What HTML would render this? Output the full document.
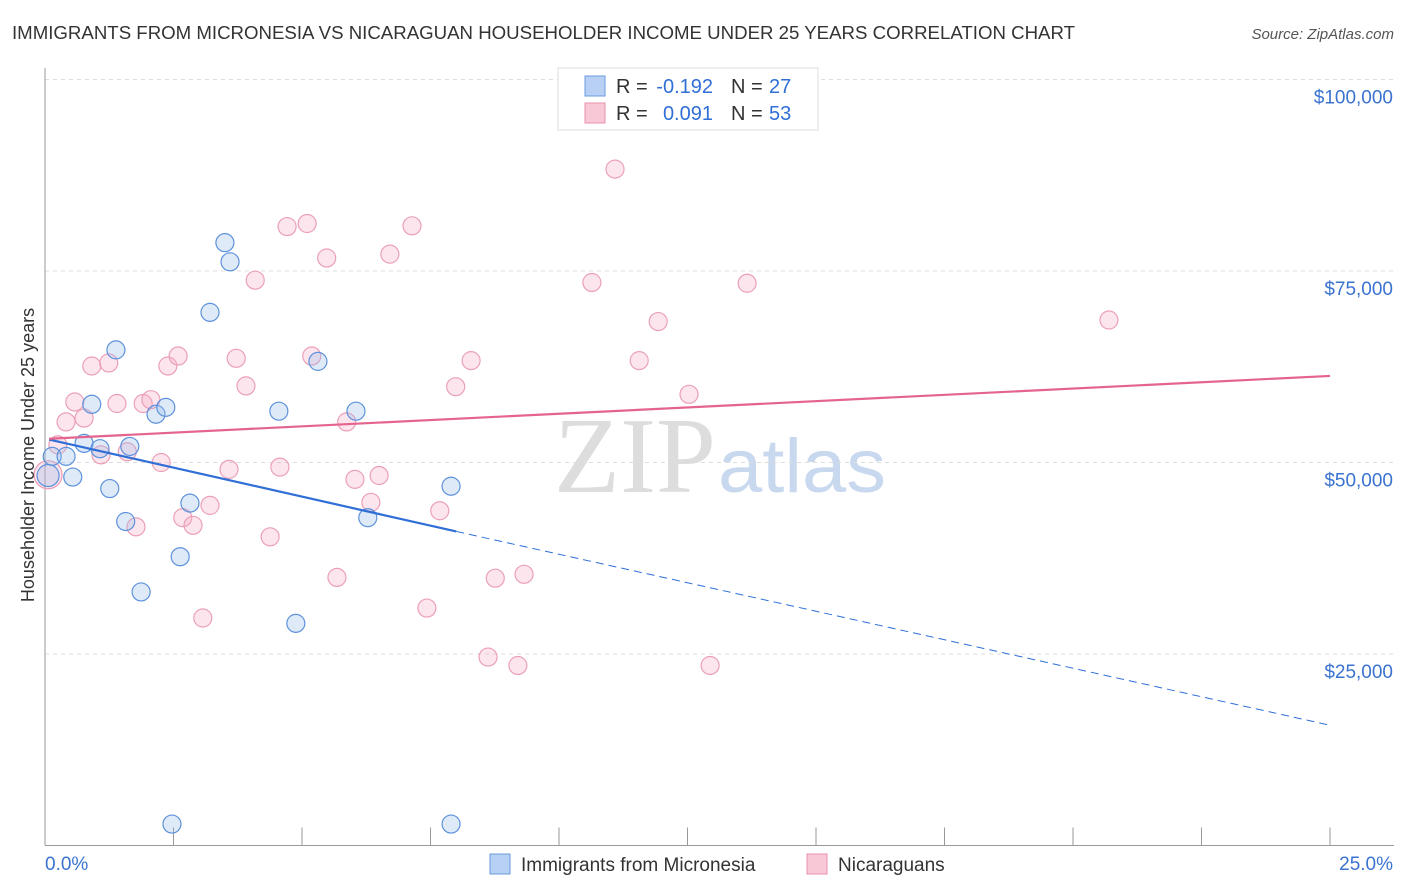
<!DOCTYPE html>
<html><head><meta charset="utf-8"><style>
body{margin:0;background:#fff;font-family:"Liberation Sans",sans-serif;}
svg{display:block}
</style></head><body>
<svg id="chart" width="1406" height="892">
<text x="12" y="39" font-size="18" fill="#333" textLength="1063" lengthAdjust="spacingAndGlyphs">IMMIGRANTS FROM MICRONESIA VS NICARAGUAN HOUSEHOLDER INCOME UNDER 25 YEARS CORRELATION CHART</text>
<text x="1394" y="39" font-size="15" fill="#555" font-style="italic" text-anchor="end">Source: ZipAtlas.com</text>
<text x="716" y="492" font-size="108" fill="#ddd" text-anchor="end" font-family="Liberation Serif" textLength="162" lengthAdjust="spacingAndGlyphs">ZIP</text>
<text x="718" y="492" font-size="76" fill="#c8d8ee" textLength="168" lengthAdjust="spacingAndGlyphs">atlas</text>
<g id="grid"></g>
<g id="axes"></g>
<g id="pts"></g>
<g id="lines"></g>
<text transform="translate(34,455) rotate(-90)" font-size="18" fill="#333" text-anchor="middle">Householder Income Under 25 years</text>
<g>
<rect x="558" y="68" width="260" height="62" fill="#fff" stroke="#ddd"/>
<rect x="585" y="76" width="20" height="20" fill="#b8d0f3" stroke="#6a9be0"/>
<rect x="585" y="103" width="20" height="20" fill="#f9c8d6" stroke="#e890ab"/>
<text x="616" y="93" font-size="20" fill="#333">R =</text>
<text x="713" y="93" font-size="20" fill="#2f6fd6" text-anchor="end">-0.192</text>
<text x="731" y="93" font-size="20" fill="#333">N =</text>
<text x="769" y="93" font-size="20" fill="#2f6fd6">27</text>
<text x="616" y="120" font-size="20" fill="#333">R =</text>
<text x="713" y="120" font-size="20" fill="#2f6fd6" text-anchor="end">0.091</text>
<text x="731" y="120" font-size="20" fill="#333">N =</text>
<text x="769" y="120" font-size="20" fill="#2f6fd6">53</text>
</g>
<g>
<rect x="490" y="854" width="20" height="20" fill="#b8d0f3" stroke="#6a9be0"/>
<text x="521" y="871" font-size="19" fill="#333">Immigrants from Micronesia</text>
<rect x="807" y="854" width="20" height="20" fill="#f9c8d6" stroke="#e890ab"/>
<text x="838" y="871" font-size="19" fill="#333">Nicaraguans</text>
</g>
</svg>
<script>
const yTicks=[25000,50000,75000,100000];
const yTickLabels=["$25,000","$50,000","$75,000","$100,000"];
const xTickLabels=["0.0%","25.0%"];
const blueX=[0.14,0.41,0.54,0.76,0.91,1.07,1.26,1.38,1.57,1.65,1.87,2.16,2.35,2.47,2.63,2.82,3.21,3.50,3.60,4.55,4.88,5.31,6.05,6.28,7.90,7.90,0.06];
const blueY=[50800,50800,48100,52500,57600,51800,46600,64700,42300,52100,33100,56300,57200,2800,37700,44700,69600,78700,76200,56700,29000,63200,56700,42800,46900,2800,48300];
const pinkX=[0.06,0.25,0.41,0.58,0.76,0.91,1.09,1.24,1.40,1.60,1.77,1.91,2.06,2.26,2.39,2.59,2.68,2.88,3.07,3.21,3.58,3.72,3.91,4.09,4.38,4.57,4.71,5.10,5.19,5.48,5.68,5.87,6.03,6.34,6.50,6.71,7.14,7.43,7.68,7.99,8.29,8.62,8.76,9.20,9.32,10.64,11.09,11.56,11.93,12.53,12.94,13.66,20.70];
const pinkY=[48400,52300,55300,57900,55800,62600,51000,63000,57700,51400,41600,57700,58200,50000,62600,63900,42800,41800,29700,44400,49100,63600,60000,73800,40300,49400,80800,81200,63900,76700,35000,55300,47800,44800,48300,77200,80900,31000,43700,59900,63300,24600,34900,23500,35400,73500,88300,63300,68400,58900,23500,73400,68600];
const lineBlue=[53000,41000,15700];
const linePink=[53100,61300];
const NS="http://www.w3.org/2000/svg";
const X0=45,X1=1330,Y0=845.5,YS=766/100000;
const sx=v=>X0+v/25*(X1-X0), sy=v=>Y0-v*YS;
function mk(tag,a,parent){const e=document.createElementNS(NS,tag);for(const k in a)e.setAttribute(k,a[k]);document.getElementById(parent).appendChild(e);return e;}
yTicks.forEach((t,i)=>{
 const g=mk('line',{x1:X0,x2:1394,y1:sy(t),y2:sy(t),stroke:'#ddd','stroke-dasharray':'4,4'},'grid');
 
 
 const l=mk('text',{x:1393,y:sy(t)+24,'font-size':19,fill:'#3a73d0','text-anchor':'end'},'axes');
 l.textContent=yTickLabels[i];
 
 
});
mk('line',{x1:X0,x2:X0,y1:68,y2:Y0,stroke:'#999'},'axes');
mk('line',{x1:X0,x2:1394,y1:Y0,y2:Y0,stroke:'#999'},'axes');
for(let i=0;i<=10;i++){const t=mk('line',{x1:sx(i*2.5),x2:sx(i*2.5),y1:Y0,y2:Y0-18,stroke:'#999'},'axes');
 
 }
const xl0=mk('text',{x:45,y:870,'font-size':19,fill:'#3a73d0'},'axes');xl0.textContent=xTickLabels[0];


const xl1=mk('text',{x:1393,y:870,'font-size':19,fill:'#3a73d0','text-anchor':'end'},'axes');xl1.textContent=xTickLabels[1];


pinkX.forEach((x,i)=>{const c=mk('circle',{cx:sx(x),cy:sy(pinkY[i]),r:i==0?14:9,fill:'rgba(246,170,195,0.3)',stroke:'#eba0b8','stroke-width':1.2},'pts');
 
 });
blueX.forEach((x,i)=>{const c=mk('circle',{cx:sx(x),cy:sy(blueY[i]),r:i==26?11:9,fill:'rgba(150,185,235,0.3)',stroke:'#5d92dc','stroke-width':1.2},'pts');
 
 });
const bl=mk('line',{x1:sx(0.08),y1:sy(lineBlue[0]),x2:sx(8),y2:sy(lineBlue[1]),stroke:'#2f6fd6','stroke-width':2.2},'lines');


const bd=mk('line',{x1:sx(8),y1:sy(lineBlue[1]),x2:sx(25),y2:sy(lineBlue[2]),stroke:'#2f6fd6','stroke-width':1,'stroke-dasharray':'8,5'},'lines');


const pl=mk('line',{x1:sx(0.08),y1:sy(linePink[0]),x2:sx(25),y2:sy(linePink[1]),stroke:'#e4648e','stroke-width':2.2},'lines');


</script>
</body></html>
